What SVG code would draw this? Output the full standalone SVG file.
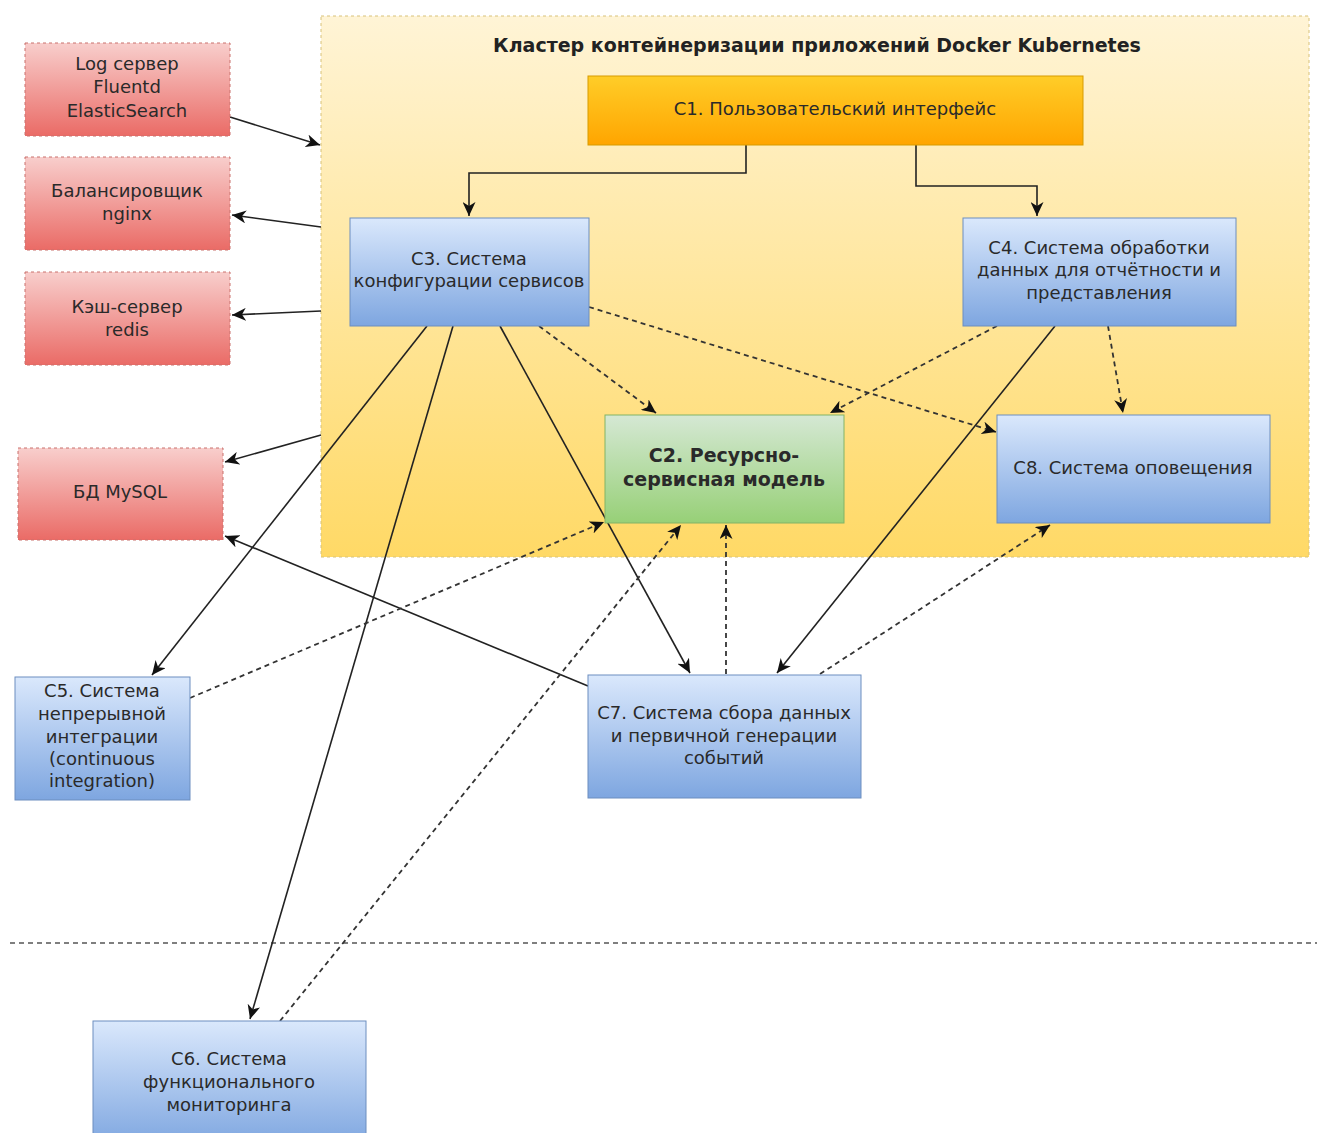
<svg xmlns="http://www.w3.org/2000/svg" width="1317" height="1133" viewBox="0 0 1317 1133">
<defs>
<linearGradient id="gCluster" x1="0" y1="0" x2="0" y2="1"><stop offset="0" stop-color="#fff4d6"/><stop offset="1" stop-color="#ffd966"/></linearGradient>
<linearGradient id="gRed" x1="0" y1="0" x2="0" y2="1"><stop offset="0" stop-color="#f8cecc"/><stop offset="1" stop-color="#ea6b66"/></linearGradient>
<linearGradient id="gBlue" x1="0" y1="0" x2="0" y2="1"><stop offset="0" stop-color="#dae8fc"/><stop offset="1" stop-color="#7ea6e0"/></linearGradient>
<linearGradient id="gOrange" x1="0" y1="0" x2="0" y2="1"><stop offset="0" stop-color="#ffcd28"/><stop offset="1" stop-color="#ffa500"/></linearGradient>
<linearGradient id="gGreen" x1="0" y1="0" x2="0" y2="1"><stop offset="0" stop-color="#d5e8d4"/><stop offset="1" stop-color="#97d077"/></linearGradient>
<marker id="arr" markerUnits="userSpaceOnUse" markerWidth="15" markerHeight="13" refX="14" refY="6.5" orient="auto">
<path d="M0,0 L14,6.5 L0,13 L4,6.5 Z" fill="#111"/>
</marker>
</defs>
<style>
text{font-family:"DejaVu Sans","Liberation Sans",Arial,sans-serif;font-size:18px;fill:#2a2a2a;text-anchor:middle}
.t{font-weight:bold;font-size:19px;fill:#222}
.b{font-weight:bold;font-size:19px}
.red{fill:url(#gRed);stroke:#c9706c;stroke-width:1;stroke-dasharray:3 3}
.blue{fill:url(#gBlue);stroke:#6c8ebf;stroke-width:1}
.orange{fill:url(#gOrange);stroke:#d79b00;stroke-width:1}
.green{fill:url(#gGreen);stroke:#82b366;stroke-width:1}
.c{fill:none;stroke:#222;stroke-width:1.6;marker-end:url(#arr)}
.d{fill:none;stroke:#333;stroke-width:1.8;stroke-dasharray:5 4;marker-end:url(#arr)}
</style>
<rect width="1317" height="1133" fill="#ffffff"/>

<g id="cluster">
<rect x="321" y="16" width="988" height="541" fill="url(#gCluster)" stroke="#d8c27a" stroke-width="1" stroke-dasharray="3 3"/>
<text class="t" x="817" y="52">Кластер контейнеризации приложений Docker Kubernetes</text>
</g>

<line id="sep" x1="10" y1="943" x2="1317" y2="943" stroke="#555" stroke-width="1.6" stroke-dasharray="5 4"/>

<g id="connectors">
<line class="c" x1="230" y1="117" x2="320" y2="145"/>
<line class="c" x1="321" y1="227" x2="232" y2="215"/>
<line class="c" x1="321" y1="311" x2="232" y2="315"/>
<line class="c" x1="321" y1="435" x2="225" y2="462"/>
<path class="c" d="M746,145 V173 H469 V216"/>
<path class="c" d="M916,145 V186 H1037 V216"/>
<line class="c" x1="427" y1="326" x2="152" y2="675"/>
<line class="c" x1="453" y1="326" x2="250" y2="1019"/>
<line class="c" x1="500" y1="326" x2="690" y2="673"/>
<line class="d" x1="539" y1="326" x2="656" y2="413"/>
<line class="d" x1="589" y1="307" x2="996" y2="432"/>
<line class="d" x1="997" y1="326" x2="830" y2="413"/>
<line class="c" x1="1055" y1="326" x2="777" y2="673"/>
<line class="d" x1="1108" y1="326" x2="1123" y2="413"/>
<line class="c" x1="588" y1="686" x2="225" y2="536"/>
<line class="d" x1="190" y1="698" x2="604" y2="522"/>
<line class="d" x1="280" y1="1021" x2="681" y2="525"/>
<line class="d" x1="726" y1="674" x2="726" y2="525"/>
<line class="d" x1="820" y1="674" x2="1050" y2="525"/>
</g>

<g id="log">
<rect class="red" x="25" y="43" width="205" height="93"/>
<text x="127" y="70">Log сервер</text>
<text x="127" y="93">Fluentd</text>
<text x="127" y="117">ElasticSearch</text>
</g>
<g id="nginx">
<rect class="red" x="25" y="157" width="205" height="93"/>
<text x="127" y="197">Балансировщик</text>
<text x="127" y="220">nginx</text>
</g>
<g id="redis">
<rect class="red" x="25" y="272" width="205" height="93"/>
<text x="127" y="313">Кэш-сервер</text>
<text x="127" y="336">redis</text>
</g>
<g id="mysql">
<rect class="red" x="18" y="448" width="205" height="92"/>
<text x="120" y="498">БД MySQL</text>
</g>

<g id="c1">
<rect class="orange" x="588" y="76" width="495" height="69"/>
<text x="835" y="115">С1. Пользовательский интерфейс</text>
</g>
<g id="c3">
<rect class="blue" x="350" y="218" width="239" height="108"/>
<text x="469" y="265">С3. Система</text>
<text x="469" y="287">конфигурации сервисов</text>
</g>
<g id="c4">
<rect class="blue" x="963" y="218" width="273" height="108"/>
<text x="1099" y="254">С4. Система обработки</text>
<text x="1099" y="276">данных для отчётности и</text>
<text x="1099" y="299">представления</text>
</g>
<g id="c2">
<rect class="green" x="605" y="415" width="239" height="108"/>
<text class="b" x="724" y="462">С2. Ресурсно-</text>
<text class="b" x="724" y="486">сервисная модель</text>
</g>
<g id="c8">
<rect class="blue" x="997" y="415" width="273" height="108"/>
<text x="1133" y="474">С8. Система оповещения</text>
</g>
<g id="c5">
<rect class="blue" x="15" y="677" width="175" height="123"/>
<text x="102" y="697">С5. Система</text>
<text x="102" y="720">непрерывной</text>
<text x="102" y="743">интеграции</text>
<text x="102" y="765">(continuous</text>
<text x="102" y="787">integration)</text>
</g>
<g id="c7">
<rect class="blue" x="588" y="675" width="273" height="123"/>
<text x="724" y="719">С7. Система сбора данных</text>
<text x="724" y="742">и первичной генерации</text>
<text x="724" y="764">событий</text>
</g>
<g id="c6">
<rect class="blue" x="93" y="1021" width="273" height="125"/>
<text x="229" y="1065">С6. Система</text>
<text x="229" y="1088">функционального</text>
<text x="229" y="1111">мониторинга</text>
</g>
</svg>
